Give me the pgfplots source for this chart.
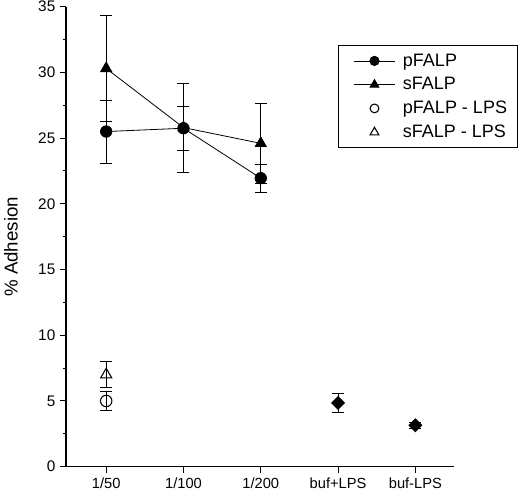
\documentclass[border=0pt]{standalone}
\usepackage{pgfplots}
\pgfplotsset{compat=1.18}
\usepackage{fontspec}
\setmainfont{Liberation Sans}

\pgfplotstableread{
x y e
0 25.5 2.4
1 25.75 1.7
2 21.95 1.05
}\pfalp
\pgfplotstableread{
x y e
0 30.3 4.0
1 25.8 3.4
2 24.6 3.05
}\sfalp
\pgfplotstableread{
x y e
0 5.0 0.7
}\pfalplps
\pgfplotstableread{
x y e
0 7.0 1.0
}\sfalplps
\pgfplotstableread{
x y e
3 4.85 0.7
4 3.15 0.25
}\buf

\begin{document}
\begin{tikzpicture}
\begin{axis}[
  scale only axis, width=291pt, height=345pt,
  xmin=-0.52, xmax=4.5, ymin=0, ymax=35,
  axis x line*=bottom, axis y line*=left,
  xtick={0,1,2,3,4},
  xticklabels={1/50,1/100,1/200,buf+LPS,buf-LPS},
  ytick={0,5,...,35}, minor y tick num=1,
  tick align=outside,
  major tick length=4.5pt, minor tick length=2.5pt,
  tick style={black, line width=0.8pt},
  axis line style={line width=1pt},
  /pgf/number format/assume math mode=true,
  yticklabel style={font=\fontsize{11.5}{13}\selectfont},
  xticklabel style={font=\fontsize{11}{13}\selectfont},
  ylabel={\% Adhesion},
  ylabel style={at={(rel axis cs:-0.142,0.478)}, anchor=center, font=\fontsize{14}{16}\selectfont},
  legend style={at={(rel axis cs:0.701,0.916)}, anchor=north west, draw=black, line width=0.6pt,
    font=\fontsize{13.5}{15}\selectfont, inner xsep=6pt, inner ysep=4pt, row sep=3pt},
  legend cell align=left,
  legend image code/.code={%
    \draw[mark repeat=2,mark phase=2] plot coordinates {(0.18cm,0cm) (0.73cm,0cm) (1.28cm,0cm)};
    \path (0cm,0cm) (1.4cm,0cm);},
  error bars/y dir=both, error bars/y explicit,
  error bars/error mark options={rotate=90, mark size=4.5pt, black, line width=0.6pt},
  error bars/error bar style={black, line width=0.6pt},
]
\addplot[black, line width=0.6pt, mark=triangle*, mark size=4.8pt, mark options={fill=black}, forget plot]
  table[x=x, y=y, y error=e] {\sfalp};
\addplot[black, line width=0.6pt, mark=*, mark size=4.3pt, mark options={fill=black}, forget plot]
  table[x=x, y=y, y error=e] {\pfalp};
\addplot[black, only marks, mark=o, mark size=4.3pt, mark options={fill=white, line width=0.8pt}, forget plot]
  table[x=x, y=y, y error=e] {\pfalplps};
\addplot[black, only marks, mark=triangle, mark size=4.8pt, mark options={fill=white, line width=0.8pt}, forget plot]
  table[x=x, y=y, y error=e] {\sfalplps};
\addplot[black, only marks, mark=square*, mark size=3.5pt, mark options={fill=black, rotate=45}, forget plot]
  table[x=x, y=y, y error=e] {\buf};

\addlegendimage{black, line width=0.6pt, mark=*, mark size=3.5pt, mark options={fill=black}}
\addlegendentry{pFALP}
\addlegendimage{black, line width=0.6pt, mark=triangle*, mark size=3.8pt, mark options={fill=black}}
\addlegendentry{sFALP}
\addlegendimage{black, only marks, mark=o, mark size=3.3pt, mark options={draw=black, fill=white, line width=0.8pt}}
\addlegendentry{pFALP - LPS}
\addlegendimage{black, only marks, mark=triangle, mark size=3.8pt, mark options={draw=black, fill=white, line width=0.8pt}}
\addlegendentry{sFALP - LPS}
\end{axis}
\pgfresetboundingbox
\path (-49.5pt,-17.5pt) rectangle (340.5pt,350pt);
\end{tikzpicture}
\end{document}
